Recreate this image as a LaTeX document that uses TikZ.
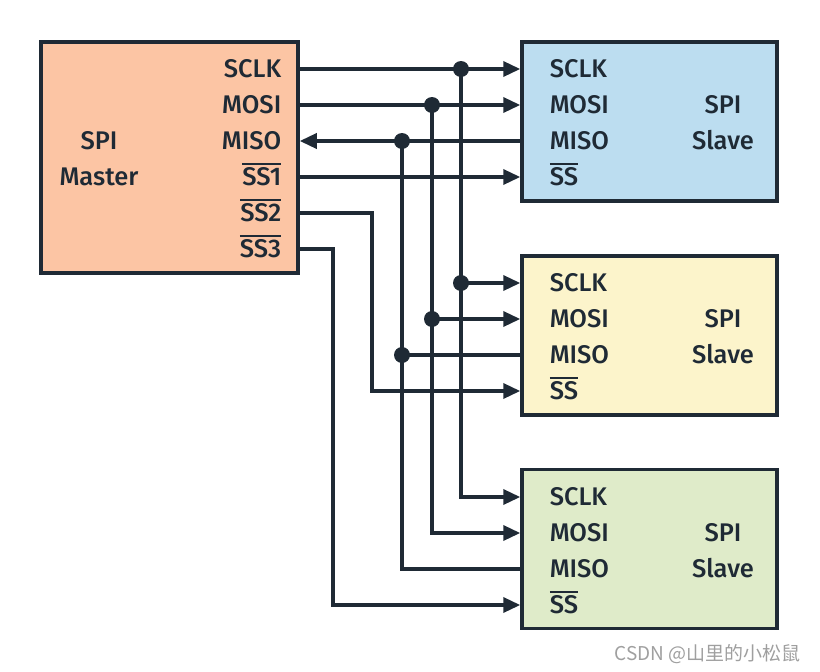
\documentclass[tikz,border=0pt]{standalone}
\usepackage{fontspec}
\setmainfont{Fira Sans}[UprightFont={* Medium}]
\newfontfamily\cjk{Noto Sans CJK SC}
\usepackage{tikz}
\usetikzlibrary{arrows.meta,calc}
\definecolor{linec}{HTML}{1F2A35}
\definecolor{masterc}{HTML}{FCC5A4}
\definecolor{slaveA}{HTML}{BCDDF0}
\definecolor{slaveB}{HTML}{FCF4CB}
\definecolor{slaveC}{HTML}{DFEBC9}
\tikzset{>={Triangle[length=17pt,width=15pt]}}
\tikzstyle{box}=[
	 rectangle, draw=linec, line width=3.5pt,
	 inner sep=0pt
    ]
\tikzstyle{pin}=[
	 inner sep=0pt, text height=17.2pt, text depth=0pt
    ]
\tikzstyle{slavebox}=[box, minimum width=255pt, minimum height=159pt]
\newcommand{\nbar}[1]{\vbox{\hrule height 2pt\kern 3pt\hbox{#1}}}
\newcommand{\junction}[1]{\fill[linec] (#1) circle (8pt)}

\begin{document}
\begin{tikzpicture}[x=1pt,y=-1pt,line width=3.5pt,
    font=\fontsize{25.5}{30}\selectfont, text=linec]
\useasboundingbox (0,0) rectangle (820,672);

% boxes
\node[box,fill=masterc,minimum width=257pt,minimum height=231pt] (M) at (169.5,157.5) {};
\node[slavebox,fill=slaveA] (S1) at (649.5,121.5) {};
\node[slavebox,fill=slaveB] (S2) at (649.5,335.5) {};
\node[slavebox,fill=slaveC] (S3) at (649.5,549) {};

% master pins
\node[pin,anchor=east] (mCLK) at (283,69) {SCLK};
\node[pin,anchor=east] (mMOSI) at (283,105) {MOSI};
\node[pin,anchor=east] (mMISO) at (283,141) {MISO};
\node[pin,anchor=east] (mSS1) at (283,177) {\nbar{SS1}};
\node[pin,anchor=east] (mSS2) at (283,213) {\nbar{SS2}};
\node[pin,anchor=east] (mSS3) at (283,249) {\nbar{SS3}};
\node[pin] (mName) at (99,141) {SPI};
\node[pin] (mName2) at (99,177) {Master};

% slave pins
\foreach \s/\y in {1/69,2/283,3/497}{
  \node[pin,anchor=west] (s\s CLK) at (548,\y) {SCLK};
  \node[pin,anchor=west] (s\s MOSI) at (548,\y+36) {MOSI};
  \node[pin,anchor=west] (s\s MISO) at (548,\y+72) {MISO};
  \node[pin,anchor=west] (s\s SS) at (548,\y+108) {\nbar{SS}};
  \node[pin] (s\s Name) at (723,\y+36) {SPI};
  \node[pin] (s\s Name2) at (723,\y+72) {Slave};
}

% bus positions
\coordinate (xCLK) at (461,0);
\coordinate (xMOSI) at (432,0);
\coordinate (xMISO) at (402,0);
\coordinate (xSS2) at (372,0);
\coordinate (xSS3) at (333,0);

\begin{scope}[draw=linec]
% SCLK
\draw[->] (mCLK -| M.east) -- (s1CLK -| S1.west);
\draw[->] (mCLK -| xCLK) |- (s3CLK -| S3.west);
\draw[->] (s2CLK -| xCLK) -- (s2CLK -| S2.west);
% MOSI
\draw[->] (mMOSI -| M.east) -- (s1MOSI -| S1.west);
\draw[->] (mMOSI -| xMOSI) |- (s3MOSI -| S3.west);
\draw[->] (s2MOSI -| xMOSI) -- (s2MOSI -| S2.west);
% MISO
\draw[->] (s1MISO -| S1.west) -- (mMISO -| M.east);
\draw (s3MISO -| S3.west) -| (mMISO -| xMISO);
\draw (s2MISO -| S2.west) -- (s2MISO -| xMISO);
% slave selects
\draw[->] (mSS1 -| M.east) -- (s1SS -| S1.west);
\draw[->] (mSS2 -| M.east) -| (s2SS -| xSS2) -- (s2SS -| S2.west);
\draw[->] (mSS3 -| M.east) -| (s3SS -| xSS3) -- (s3SS -| S3.west);
\end{scope}

\junction{mCLK -| xCLK};
\junction{s2CLK -| xCLK};
\junction{mMOSI -| xMOSI};
\junction{s2MOSI -| xMOSI};
\junction{mMISO -| xMISO};
\junction{s2MISO -| xMISO};

\node[anchor=east,text=gray!75,font=\cjk\fontsize{19}{22}\selectfont] (mark) at (806,654) {CSDN @山里的小松鼠};

\end{tikzpicture}
\end{document}
